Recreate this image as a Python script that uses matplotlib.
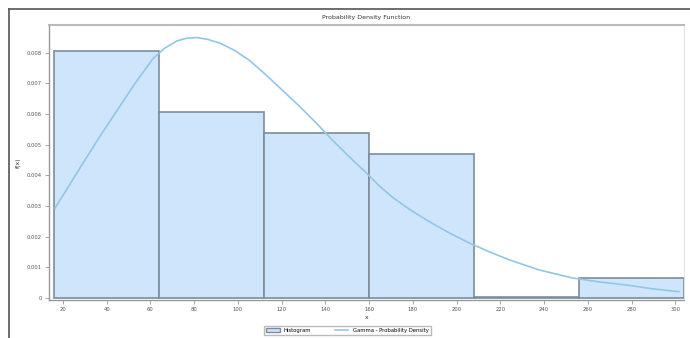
import numpy as np
import matplotlib.pyplot as plt
from matplotlib.lines import Line2D
from matplotlib.patches import Patch

# histogram bins and densities
bin_edges = [16, 64, 112, 160, 208, 256, 304]
densities = [0.00806, 0.00605, 0.00537, 0.00468, 0.00003, 0.00065]

# fitted density curve
curve_x = [16.35, 23.2, 29.1, 36.9, 44.7, 52.9, 61.1, 66.6, 72.1, 76.6,
           81.2, 86.2, 91.7, 98.5, 105.4, 112.7, 120.5, 128.3, 136.0, 143.3,
           151.1, 158.8, 164.8, 170.7, 178.4, 186.2, 195.8, 205.8, 215.0, 224.1,
           237.8, 252.9, 265.2, 277.5, 290.3, 301.7]
curve_y = [0.00293, 0.00371, 0.00439, 0.00527, 0.00611, 0.00699, 0.00780, 0.00815,
           0.00838, 0.00847, 0.00849, 0.00843, 0.00831, 0.00807, 0.00774, 0.00728,
           0.00676, 0.00624, 0.00569, 0.00514, 0.00459, 0.00407, 0.00364, 0.00328,
           0.00289, 0.00254, 0.00215, 0.00179, 0.00150, 0.00124, 0.00091, 0.00065,
           0.00052, 0.00042, 0.00029, 0.00020]

x_ticks = list(range(20, 301, 20))
y_ticks = [0, 0.001, 0.002, 0.003, 0.004, 0.005, 0.006, 0.007, 0.008]
y_labels = ["0", "0.001", "0.002", "0.003", "0.004", "0.005", "0.006", "0.007", "0.008"]

fig = plt.figure(figsize=(6.9, 3.38), dpi=100)
fig.patch.set_facecolor("white")

# window border along top and left
fig.add_artist(Line2D([9 / 690, 1], [1 - 9 / 338, 1 - 9 / 338], color="#555555", lw=1.2))
fig.add_artist(Line2D([9 / 690, 9 / 690], [0, 1 - 9 / 338], color="#555555", lw=1.2))

ax = fig.add_axes([49 / 690, 1 - 300 / 338, 635 / 690, 275 / 338])

widths = np.diff(bin_edges)
ax.bar(bin_edges[:-1], densities, width=widths, align="edge",
       color="#cfe5fb", edgecolor="#7d8c9c", linewidth=1.2, zorder=2)
ax.plot(curve_x, curve_y, color="#93c6e6", lw=1.2, solid_joinstyle="round", zorder=3)

ax.set_xlim(13.6, 304)
ax.set_ylim(-0.00007, 0.0089)
ax.set_xticks(x_ticks)
ax.set_xticklabels([str(t) for t in x_ticks], fontsize=3.8, color="#555555")
ax.set_yticks(y_ticks)
ax.set_yticklabels(y_labels, fontsize=3.8, color="#555555")
ax.tick_params(length=3, width=0.6, color="#999999", pad=2)

for side in ["left", "bottom"]:
    ax.spines[side].set_color("#999999")
    ax.spines[side].set_linewidth(1.0)
ax.spines["top"].set_color("#bbbbbb")
ax.spines["top"].set_linewidth(1.5)
ax.spines["right"].set_color("#dddddd")
ax.spines["right"].set_linewidth(0.6)

ax.set_title("Probability Density Function", fontsize=4.5, color="#333333", pad=4)
ax.set_xlabel("x", fontsize=4.5, color="#333333", labelpad=2)
ax.set_ylabel("f(x)", fontsize=4.5, color="#333333", labelpad=4)

handles = [Patch(facecolor="#cfe5fb", edgecolor="#7d8c9c", linewidth=1.0),
           Line2D([0], [0], color="#93c6e6", lw=1.2)]
ax.legend(handles, ["Histogram", "Gamma - Probability Density"],
          loc="upper center", bbox_to_anchor=(0.47, -0.085), ncol=2, fontsize=3.8,
          frameon=True, fancybox=False, edgecolor="#aaaaaa", handlelength=2.5,
          borderpad=0.4, columnspacing=4.5)

fig.savefig("out.png", dpi=100)
